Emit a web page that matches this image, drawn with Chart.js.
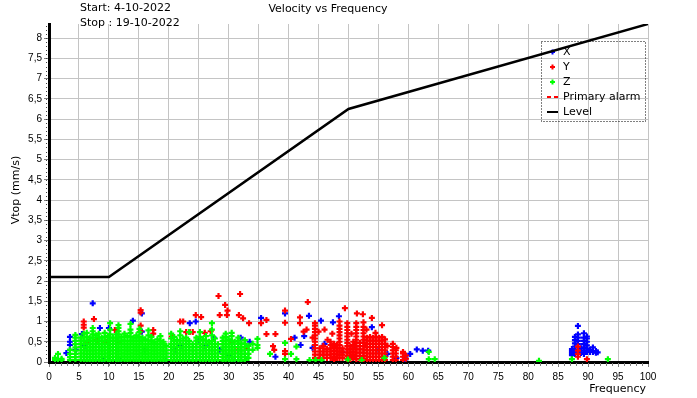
<!DOCTYPE html>
<html>
<head>
<meta charset="utf-8">
<script src="https://cdn.jsdelivr.net/npm/chart.js@4/dist/chart.umd.min.js"></script>
<style>
  body { margin: 0; background: #fff; }
  canvas { display: block; }
</style>
</head>
<body>
<canvas id="velChart" width="697" height="398"></canvas>
<script>
// data: [frequency, [velocities...]] stripes and single points
const xTicks = [0, 5, 10, 15, 20, 25, 30, 35, 40, 45, 50, 55, 60, 65, 70, 75, 80, 85, 90, 95, 100];
const yTicks = [0, 0.5, 1, 1.5, 2, 2.5, 3, 3.5, 4, 4.5, 5, 5.5, 6, 6.5, 7, 7.5, 8];

const levelFreq = [0, 10, 50, 100];
const levelVel = [2.1, 2.1, 6.25, 8.35];

const zStripes = [
    [1.0, [0.05, 0.1]],
    [1.5, [0.05, 0.2]],
    [2.1, [0.05, 0.08]],
    [3.5, [0.05, 0.12, 0.2, 0.3]],
    [4.4, [0.05, 0.12, 0.2, 0.28, 0.36, 0.44, 0.52, 0.6, 0.67]],
    [5.3, [0.05, 0.13, 0.21, 0.29, 0.37, 0.45, 0.53, 0.6]],
    [5.8, [0.05, 0.13, 0.21, 0.29, 0.37, 0.45, 0.53, 0.61, 0.7]],
    [6.3, [0.04, 0.12, 0.2, 0.28, 0.36, 0.44, 0.52, 0.62, 0.72]],
    [6.8, [0.05, 0.13, 0.21, 0.29, 0.37, 0.45, 0.53, 0.6]],
    [7.3, [0.04, 0.12, 0.2, 0.28, 0.36, 0.44, 0.52, 0.6, 0.68, 0.76, 0.84]],
    [7.8, [0.05, 0.13, 0.21, 0.29, 0.37, 0.45, 0.53, 0.66]],
    [8.3, [0.05, 0.13, 0.21, 0.29, 0.37, 0.45, 0.53, 0.61, 0.7]],
    [8.8, [0.04, 0.12, 0.2, 0.28, 0.36, 0.44, 0.52, 0.6]],
    [9.3, [0.05, 0.13, 0.21, 0.29, 0.37, 0.45, 0.53, 0.62, 0.72]],
    [9.8, [0.05, 0.13, 0.21, 0.29, 0.37, 0.45, 0.53, 0.64]],
    [10.2, [0.04, 0.12, 0.2, 0.28, 0.36, 0.44, 0.52, 0.6, 0.68, 0.8, 0.96]],
    [10.7, [0.05, 0.13, 0.21, 0.29, 0.37, 0.45, 0.53, 0.6]],
    [11.2, [0.05, 0.13, 0.21, 0.29, 0.37, 0.45, 0.53, 0.6, 0.68]],
    [11.6, [0.04, 0.12, 0.2, 0.28, 0.36, 0.44, 0.52, 0.6, 0.68, 0.76, 0.84, 0.91]],
    [12.1, [0.05, 0.13, 0.21, 0.29, 0.37, 0.45, 0.53, 0.62]],
    [12.6, [0.05, 0.13, 0.21, 0.29, 0.37, 0.45, 0.53, 0.62, 0.7]],
    [13.1, [0.04, 0.12, 0.2, 0.28, 0.36, 0.44, 0.52, 0.64]],
    [13.6, [0.05, 0.13, 0.21, 0.29, 0.37, 0.45, 0.53, 0.62, 0.72, 0.8, 0.94]],
    [14.1, [0.05, 0.13, 0.21, 0.29, 0.37, 0.45, 0.53, 0.6]],
    [14.6, [0.04, 0.12, 0.2, 0.28, 0.36, 0.44, 0.52, 0.6, 0.66]],
    [15.1, [0.05, 0.13, 0.21, 0.29, 0.37, 0.45, 0.53, 0.62, 0.74, 0.82]],
    [15.6, [0.05, 0.13, 0.21, 0.29, 0.37, 0.45, 0.53, 0.6]],
    [16.1, [0.04, 0.12, 0.2, 0.28, 0.36, 0.44, 0.56]],
    [16.6, [0.05, 0.13, 0.21, 0.29, 0.37, 0.45, 0.53, 0.66, 0.78]],
    [17.1, [0.05, 0.13, 0.21, 0.29, 0.37, 0.45, 0.53, 0.62]],
    [17.6, [0.04, 0.12, 0.2, 0.28, 0.36, 0.44, 0.5]],
    [18.1, [0.05, 0.13, 0.21, 0.29, 0.37, 0.45, 0.56]],
    [18.6, [0.05, 0.13, 0.21, 0.29, 0.37, 0.45, 0.53, 0.64]],
    [19.1, [0.04, 0.12, 0.2, 0.28, 0.36, 0.44, 0.5]],
    [19.6, [0.05, 0.13, 0.21, 0.29, 0.4]],
    [20.4, [0.05, 0.13, 0.21, 0.29, 0.37, 0.45, 0.58, 0.7]],
    [20.9, [0.04, 0.12, 0.2, 0.28, 0.36, 0.44, 0.52, 0.62]],
    [21.4, [0.05, 0.13, 0.21, 0.29, 0.37, 0.45, 0.54]],
    [21.9, [0.05, 0.13, 0.21, 0.29, 0.37, 0.45, 0.53, 0.66, 0.76]],
    [22.4, [0.04, 0.12, 0.2, 0.28, 0.36, 0.44, 0.58]],
    [22.9, [0.05, 0.13, 0.21, 0.29, 0.37, 0.45, 0.53, 0.6]],
    [23.4, [0.05, 0.13, 0.21, 0.29, 0.37, 0.45, 0.52, 0.74]],
    [24.0, [0.04, 0.12, 0.2, 0.28, 0.36, 0.44]],
    [24.6, [0.05, 0.13, 0.21, 0.29, 0.37, 0.45, 0.53, 0.6]],
    [25.2, [0.05, 0.13, 0.21, 0.29, 0.37, 0.45, 0.53, 0.62, 0.74]],
    [25.7, [0.04, 0.12, 0.2, 0.28, 0.36, 0.44, 0.56]],
    [26.2, [0.05, 0.13, 0.21, 0.29, 0.37, 0.45, 0.53, 0.64]],
    [26.7, [0.05, 0.13, 0.21, 0.29, 0.37, 0.5]],
    [27.2, [0.04, 0.12, 0.2, 0.28, 0.36, 0.44, 0.52, 0.66, 0.8, 0.96]],
    [27.7, [0.05, 0.13, 0.21, 0.29, 0.37, 0.45, 0.58]],
    [28.2, [0.05, 0.13, 0.21, 0.29, 0.44]],
    [29.0, [0.04, 0.12, 0.2, 0.28, 0.36, 0.44, 0.52, 0.6]],
    [29.5, [0.05, 0.13, 0.21, 0.29, 0.37, 0.45, 0.53, 0.62, 0.7]],
    [30.0, [0.05, 0.13, 0.21, 0.29, 0.37, 0.45, 0.56]],
    [30.5, [0.04, 0.12, 0.2, 0.28, 0.36, 0.44, 0.52, 0.64, 0.72]],
    [31.0, [0.05, 0.13, 0.21, 0.29, 0.37, 0.5]],
    [31.6, [0.05, 0.13, 0.21, 0.29, 0.37, 0.45, 0.53, 0.6]],
    [32.1, [0.04, 0.12, 0.2, 0.28, 0.36, 0.46]],
    [32.7, [0.05, 0.13, 0.21, 0.29, 0.37, 0.45, 0.54]],
    [33.3, [0.1, 0.2, 0.3, 0.4]],
    [34.0, [0.3, 0.45]],
    [34.8, [0.35, 0.42, 0.57]]
];
const zSingles = [
    [36.9, 0.2], [39.4, 0.07], [39.4, 0.47], [40.4, 0.2], [41.3, 0.07], [41.3, 0.38],
    [43.5, 0.05], [44.5, 0.05], [45.5, 0.05], [49.9, 0.06], [52.2, 0.05], [56, 0.1],
    [63.4, 0.07], [63.4, 0.25], [64.4, 0.07], [81.8, 0.03], [87.3, 0.07], [93.3, 0.07]
];

const yStripes = [
    [44.4, [0.1, 0.18, 0.26, 0.34, 0.42, 0.5, 0.58, 0.66, 0.74, 0.82, 0.9, 0.96]],
    [45.2, [0.1, 0.18, 0.26, 0.34]],
    [45.8, [0.1, 0.18, 0.26, 0.34, 0.4]],
    [46.4, [0.1, 0.18, 0.26, 0.32]],
    [47.0, [0.1, 0.18, 0.26, 0.34, 0.42, 0.5]],
    [47.6, [0.05, 0.13, 0.21, 0.29, 0.37, 0.45]],
    [48.1, [0.1, 0.18, 0.26, 0.34, 0.42]],
    [48.5, [0.1, 0.18, 0.26, 0.34, 0.42, 0.5, 0.58, 0.66, 0.74, 0.82, 0.9, 1.0]],
    [49.0, [0.1, 0.18, 0.26, 0.34]],
    [49.8, [0.07, 0.15, 0.23, 0.31, 0.39, 0.47, 0.55, 0.63, 0.71, 0.79, 0.87, 0.96]],
    [50.3, [0.07, 0.15, 0.23, 0.31, 0.39]],
    [50.8, [0.1, 0.18, 0.26, 0.34, 0.42, 0.5]],
    [51.3, [0.07, 0.15, 0.23, 0.31, 0.39, 0.47, 0.55, 0.63, 0.71, 0.79, 0.87, 0.96]],
    [51.9, [0.07, 0.15, 0.23, 0.31, 0.39, 0.47]],
    [52.5, [0.07, 0.15, 0.23, 0.31, 0.39, 0.47, 0.55, 0.63, 0.71, 0.79, 0.87, 0.98]],
    [53.1, [0.05, 0.13, 0.21, 0.29, 0.37, 0.45, 0.53, 0.6]],
    [53.6, [0.05, 0.13, 0.21, 0.29, 0.37, 0.45, 0.53, 0.62]],
    [54.1, [0.05, 0.13, 0.21, 0.29, 0.37, 0.45, 0.53, 0.6]],
    [54.6, [0.05, 0.13, 0.21, 0.29, 0.37, 0.45, 0.53, 0.62]],
    [55.1, [0.05, 0.13, 0.21, 0.29, 0.37, 0.45, 0.53, 0.6]],
    [55.6, [0.05, 0.13, 0.21, 0.29, 0.37, 0.45, 0.53, 0.62]],
    [56.1, [0.05, 0.13, 0.21, 0.29, 0.37, 0.45, 0.56]],
    [57.4, [0.05, 0.13, 0.21, 0.29, 0.37, 0.45]],
    [57.9, [0.05, 0.13, 0.21, 0.29]],
    [59.1, [0.05, 0.13, 0.21, 0.25]],
    [59.6, [0.08, 0.16]],
    [88.3, [0.13, 0.2, 0.28, 0.38]]
];
const ySingles = [
    [5.8, 0.85], [5.8, 0.92], [5.8, 1.0], [7.5, 1.06], [8, 0.55], [6.5, 0.5], [9.5, 0.5],
    [11, 0.79], [11.5, 0.5], [15.3, 1.28], [15.3, 1.22], [15.3, 0.9], [15.3, 0.76],
    [17.4, 0.79], [17.4, 0.7], [20.5, 0.63], [21.9, 1.0], [22.4, 1.0], [22.9, 0.74],
    [23.5, 0.74], [24, 0.74], [24.5, 1.16], [25.4, 1.11], [26, 0.72], [27, 0.76],
    [28.3, 1.63], [28.5, 1.16], [29.4, 1.41], [29.8, 1.27], [29.7, 1.16], [30.5, 0.5],
    [31.5, 0.3], [31.7, 1.16], [31.9, 1.68], [32.4, 1.08], [33, 0.35], [33.4, 0.96],
    [35.4, 0.96], [36.3, 1.04], [36.3, 0.69], [37.8, 0.69], [37.4, 0.39], [37.6, 0.3],
    [39.4, 1.27], [39.4, 0.97], [39.4, 0.27], [39.4, 0.2], [40.4, 0.57], [41.9, 1.1],
    [41.9, 0.96], [42.5, 0.75], [43, 0.8], [43.2, 1.48], [44, 0.6], [45, 0.75],
    [46, 0.8], [46.5, 0.55], [47.3, 0.7], [49.4, 1.33], [50.5, 0.7], [51.4, 1.2],
    [52.4, 1.18], [53, 0.8], [53.9, 1.09], [54.5, 0.72], [55.6, 0.91], [56.5, 0.4],
    [58, 0.35], [89.8, 0.07]
];

const xStripes = [
    [3.5, [0.3, 0.42, 0.5, 0.62]],
    [87.3, [0.17, 0.22, 0.27, 0.32]],
    [87.8, [0.2, 0.25, 0.3, 0.38, 0.46, 0.54, 0.62]],
    [88.3, [0.2, 0.28, 0.36, 0.44, 0.52, 0.6, 0.68, 0.89]],
    [88.8, [0.22, 0.28, 0.34]],
    [89.3, [0.2, 0.28, 0.36, 0.44, 0.52, 0.6, 0.71]],
    [89.8, [0.25, 0.33, 0.41, 0.5, 0.58, 0.63]],
    [90.3, [0.25, 0.3]],
    [90.8, [0.25, 0.36]],
    [91.3, [0.23, 0.27]],
    [91.6, [0.24]]
];
const xSingles = [
    [2.9, 0.22], [4.5, 0.3], [5.5, 0.69], [6, 0.4], [7.3, 1.45], [8.5, 0.84], [9, 0.05],
    [10, 0.84], [12, 0.05], [14, 1.02], [15.5, 0.75], [15.5, 1.2], [16, 0.3], [19.5, 0.05],
    [21, 0.3], [22, 0.4], [23.5, 0.96], [24.5, 1.0], [25, 0.55], [26, 0.4], [27.5, 0.6],
    [28.5, 0.3], [30, 0.15], [31, 0.05], [32, 0.6], [33.5, 0.5], [35.4, 1.09], [37.8, 0.13],
    [39.4, 1.2], [41, 0.6], [42, 0.42], [42.6, 0.64], [43.4, 1.14], [44, 0.35], [45.4, 1.02],
    [46, 0.45], [47.4, 0.98], [48.4, 1.13], [49, 0.25], [51, 0.38], [53.9, 0.86], [55, 0.3],
    [56.5, 0.2], [58, 0.1], [59.4, 0.06], [59.4, 0.12], [60.3, 0.2], [61.4, 0.31],
    [62.4, 0.28], [63.3, 0.28]
];

function toPoints(stripes, singles) {
    const pts = [];
    stripes.forEach(([f, vals]) => vals.forEach(v => pts.push({ x: f, y: v })));
    singles.forEach(([f, v]) => pts.push({ x: f, y: v }));
    return pts;
}

const FONT = '"DejaVu Sans", sans-serif';

// legend box inside the plot, drawn under the data so the level line crosses it
const boxLegend = {
    id: 'boxLegend',
    beforeDatasetsDraw(chart) {
        const ctx = chart.ctx;
        ctx.save();
        ctx.strokeStyle = '#000';
        ctx.lineWidth = 1;
        ctx.setLineDash([1, 2]);
        ctx.strokeRect(541.5, 41.5, 104, 80);
        ctx.setLineDash([]);
        ctx.font = '11px ' + FONT;
        ctx.textBaseline = 'middle';
        ctx.fillStyle = '#000';
        const rows = [52, 67, 82, 97, 112];
        chart.data.datasets.forEach((ds, i) => {
            const y = rows[i];
            ctx.strokeStyle = ds.borderColor;
            ctx.lineWidth = 2;
            ctx.beginPath();
            if (ds.showLine) {
                ctx.setLineDash(ds.borderDash || []);
                ctx.moveTo(547, y);
                ctx.lineTo(558, y);
            } else {
                ctx.moveTo(550, y); ctx.lineTo(555, y);
                ctx.moveTo(552.5, y - 2.5); ctx.lineTo(552.5, y + 2.5);
            }
            ctx.stroke();
            ctx.setLineDash([]);
            ctx.fillText(ds.label, 563, y);
        });
        ctx.restore();
    },
    afterDraw(chart) {
        const ctx = chart.ctx;
        const xs = chart.scales.x, ys = chart.scales.y;
        ctx.save();
        // minor ticks
        ctx.strokeStyle = '#808080';
        ctx.lineWidth = 1;
        ctx.beginPath();
        for (let f = 1; f < 100; f++) {
            const px = Math.round(xs.getPixelForValue(f)) + 0.5;
            ctx.moveTo(px, ys.bottom + 1);
            ctx.lineTo(px, ys.bottom + 4);
        }
        ctx.stroke();
        ctx.strokeStyle = '#404040';
        ctx.beginPath();
        for (let k = 1; k < 84; k++) {
            const py = Math.round(ys.getPixelForValue(k / 10)) + 0.5;
            ctx.moveTo(xs.left - 3, py);
            ctx.lineTo(xs.left - 2, py);
        }
        ctx.stroke();
        // texts
        ctx.fillStyle = '#000';
        ctx.font = '11px ' + FONT;
        ctx.textBaseline = 'middle';
        ctx.textAlign = 'left';
        ctx.fillText('Start: 4-10-2022', 80, 8);
        ctx.fillText('Stop : 19-10-2022', 80, 23);
        ctx.textAlign = 'center';
        ctx.fillText('Velocity vs Frequency', 328, 9);
        ctx.textAlign = 'right';
        ctx.fillText('Frequency', 646, 389);
        ctx.translate(16, 190);
        ctx.rotate(-Math.PI / 2);
        ctx.textAlign = 'center';
        ctx.fillText('Vtop (mm/s)', 0, 0);
        ctx.restore();
    }
};

const ctx = document.getElementById('velChart').getContext('2d');
new Chart(ctx, {
    type: 'scatter',
    data: {
        datasets: [
            { label: 'X', data: toPoints(xStripes, xSingles), borderColor: '#0000ff', backgroundColor: '#0000ff', order: 3 },
            { label: 'Y', data: toPoints(yStripes, ySingles), borderColor: '#ff0000', backgroundColor: '#ff0000', order: 2 },
            { label: 'Z', data: toPoints(zStripes, zSingles), borderColor: '#00ff00', backgroundColor: '#00ff00', order: 1 },
            { label: 'Primary alarm', data: [], showLine: true, borderColor: '#ff0000', borderDash: [4, 3], borderWidth: 2, pointRadius: 0, order: 4 },
            {
                label: 'Level',
                data: levelFreq.map((f, i) => ({ x: f, y: levelVel[i] })),
                showLine: true, borderColor: '#000', borderWidth: 2.5, pointRadius: 0, order: 0
            }
        ]
    },
    options: {
        responsive: false,
        animation: false,
        layout: { padding: { top: 24, right: 49, left: 0, bottom: 0 } },
        elements: {
            point: { pointStyle: 'cross', radius: 3, borderWidth: 2.2, hoverRadius: 3 }
        },
        plugins: {
            legend: { display: false },
            tooltip: { enabled: false }
        },
        scales: {
            x: {
                type: 'linear',
                min: 0,
                max: 100,
                afterFit: s => { s.height = 36; },
                afterBuildTicks: s => { s.ticks = xTicks.map(v => ({ value: v })); },
                ticks: { font: { family: 'Liberation Sans', size: 10 }, color: '#000', padding: 4, maxRotation: 0 },
                grid: { color: '#c4c4c4', tickColor: '#808080', tickLength: 5 },
                border: { color: '#000', width: 3 }
            },
            y: {
                type: 'linear',
                min: 0,
                max: 8.35,
                afterFit: s => { s.width = 49; },
                afterBuildTicks: s => { s.ticks = yTicks.map(v => ({ value: v })); },
                ticks: {
                    font: { family: 'Liberation Sans', size: 10 },
                    color: '#000',
                    padding: 2,
                    callback: v => String(v).replace('.', ',')
                },
                grid: { color: '#c4c4c4', tickColor: '#808080', tickLength: 5 },
                border: { color: '#000', width: 3 }
            }
        }
    },
    plugins: [boxLegend]
});
</script>
</body>
</html>
